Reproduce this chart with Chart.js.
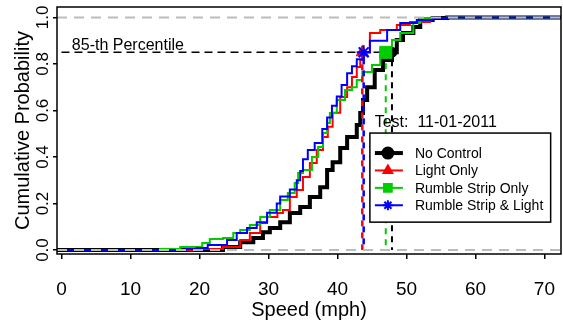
<!DOCTYPE html>
<html>
<head>
<meta charset="utf-8">
<script src="https://cdn.jsdelivr.net/npm/chart.js@4"></script>
<style>
  html, body { margin: 0; padding: 0; background: #fff; }
  #wrap { width: 563px; height: 326px; }
</style>
</head>
<body>
<div id="wrap"><canvas id="graficoVelocidade" width="563" height="326"></canvas></div>
<script>
/* ================= DADOS ================= */

const categorias = ["No Control", "Light Only", "Rumble Strip Only", "Rumble Strip & Light"];

// No Control
const velSemControle = [20.1, 23.4, 25.9, 27.8, 29.2, 30.2, 31.7, 33.1, 34.6, 36.0, 37.5, 38.5, 39.3, 40.4, 41.4, 42.8, 43.3, 43.7, 44.3, 45.4, 46.6, 47.9, 48.6, 49.5, 51.0, 52.0, 53.8, 55.9];
const probSemControle = [0.0, 0.013, 0.034, 0.052, 0.077, 0.095, 0.12, 0.159, 0.185, 0.228, 0.27, 0.344, 0.378, 0.439, 0.486, 0.538, 0.589, 0.645, 0.70, 0.774, 0.817, 0.85, 0.903, 0.933, 0.959, 0.989, 0.998, 1.0];

// Light Only
const velLuz = [19.0, 20.1, 23.4, 25.9, 27.3, 28.8, 29.8, 31.3, 32.1, 33.1, 34.1, 35.0, 36.0, 37.0, 37.9, 38.6, 39.3, 40.4, 41.4, 42.1, 42.8, 43.3, 43.6, 44.7, 46.2, 48.6, 50.5, 53.4, 55.9];
const probLuz = [0.0, 0.004, 0.013, 0.043, 0.073, 0.116, 0.142, 0.159, 0.172, 0.228, 0.258, 0.314, 0.374, 0.43, 0.486, 0.53, 0.59, 0.658, 0.70, 0.744, 0.787, 0.817, 0.85, 0.933, 0.946, 0.968, 0.98, 0.998, 1.0];

// Rumble Strip Only
const velFaixa = [14.3, 17.2, 20.4, 21.5, 23.4, 24.9, 25.9, 27.3, 28.8, 30.2, 31.7, 32.8, 33.8, 34.3, 35.0, 36.3, 37.2, 37.9, 38.5, 38.9, 39.9, 41.1, 42.1, 42.8, 43.6, 45.0, 46.2, 47.0, 47.9, 49.1, 51.0, 52.0, 55.9];
const probFaixa = [0.005, 0.013, 0.03, 0.047, 0.052, 0.073, 0.086, 0.108, 0.142, 0.172, 0.215, 0.245, 0.288, 0.331, 0.344, 0.40, 0.443, 0.503, 0.546, 0.589, 0.645, 0.688, 0.70, 0.731, 0.766, 0.796, 0.839, 0.85, 0.903, 0.933, 0.976, 0.998, 1.0];

// Rumble Strip & Light
const velFaixaLuz = [18.0, 19.6, 21.2, 24.0, 25.4, 26.9, 28.3, 29.8, 31.2, 31.7, 33.1, 34.1, 34.6, 35.0, 35.7, 36.7, 37.8, 38.5, 39.2, 39.9, 40.6, 41.4, 42.1, 42.8, 43.8, 44.7, 47.2, 49.1, 51.5, 53.8, 55.9];
const probFaixaLuz = [0.004, 0.009, 0.022, 0.043, 0.073, 0.095, 0.12, 0.16, 0.20, 0.23, 0.26, 0.30, 0.34, 0.39, 0.43, 0.46, 0.52, 0.57, 0.62, 0.66, 0.71, 0.76, 0.79, 0.82, 0.85, 0.90, 0.946, 0.976, 0.989, 0.998, 1.0];

// 85-th percentile (mesma ordem das categorias)
const percentil85 = [47.9, 43.6, 47.0, 43.8];
const nivelPercentil = 0.85;

const ticksX = [0, 10, 20, 30, 40, 50, 60, 70];
const ticksY = [0, 0.2, 0.4, 0.6, 0.8, 1.0];
const rotulosY = ["0.0", "0.2", "0.4", "0.6", "0.8", "1.0"];

/* ================= ESTILO ================= */

const FONTE = "'Liberation Sans', Arial, sans-serif";
const X_MIN = -0.65, X_MAX = 72.4;
const Y_MIN = -0.017, Y_MAX = 1.045;

const cores = ["#000000", "#ff0000", "#00cc00", "#0000ff"];
const larguras = [4, 2, 2, 2];
const marcadores = ["circle", "triangle", "rect", "star"];
const raios = [5, 7, 8.5, 7];
const raiosLegenda = [4.5, 5, 5.5, 5];

/* ================= UTIL ================= */

function pontosEcdf(vel, prob) {
  const pts = [{ x: X_MIN, y: 0 }];
  vel.forEach((v, i) => pts.push({ x: v, y: prob[i] }));
  pts.push({ x: X_MAX, y: 1 });
  return pts;
}

function linha(data, cor, largura, tracejado, offset) {
  return {
    data,
    borderColor: cor,
    borderWidth: largura,
    borderDash: tracejado || [],
    borderDashOffset: offset || 0,
    pointRadius: 0,
    fill: false,
    stepped: false
  };
}

// tira a folga que o Chart.js reserva para os rotulos nas pontas
function semFolga(s) {
  s.paddingLeft = 0;
  s.paddingRight = 0;
  s.paddingTop = 0;
  s.paddingBottom = 0;
}

/* ================= DATASETS ================= */

const series = [
  pontosEcdf(velSemControle, probSemControle),
  pontosEcdf(velLuz, probLuz),
  pontosEcdf(velFaixa, probFaixa),
  pontosEcdf(velFaixaLuz, probFaixaLuz)
];

const datasets = [];

// marcadores do percentil (por cima de tudo)
[3, 1, 2, 0].forEach(i => {
  datasets.push({
    data: [{ x: percentil85[i], y: nivelPercentil }],
    showLine: false,
    pointStyle: marcadores[i],
    pointRadius: raios[i],
    pointBackgroundColor: cores[i],
    pointBorderColor: cores[i],
    pointBorderWidth: i === 3 ? 2 : 1,
    clip: false
  });
});

// linhas cinza em 0 e 1
datasets.push(linha([{ x: X_MIN, y: 1 }, { x: X_MAX, y: 1 }], "#bcbcbc", 2, [10, 7]));
datasets.push(linha([{ x: X_MIN, y: 0 }, { x: X_MAX, y: 0 }], "#bcbcbc", 2, [10, 7]));

// verticais tracejadas do percentil
datasets.push(linha([{ x: percentil85[3], y: nivelPercentil }, { x: percentil85[3], y: 0 }], cores[3], 2.5, [6, 6], 6));
datasets.push(linha([{ x: percentil85[1], y: nivelPercentil }, { x: percentil85[1], y: 0 }], cores[1], 2.5, [6, 6]));
datasets.push(linha([{ x: percentil85[2], y: nivelPercentil }, { x: percentil85[2], y: 0 }], cores[2], 2, [6, 5]));
datasets.push(linha([{ x: percentil85[0], y: nivelPercentil }, { x: percentil85[0], y: 0 }], cores[0], 2, [6, 5], 3));

// horizontal tracejada em 0.85
datasets.push(linha([{ x: 0, y: nivelPercentil }, { x: Math.max(...percentil85), y: nivelPercentil }], "#000", 1.5, [8, 5]));

// curvas acumuladas (azul por cima, preto por baixo)
[3, 2, 1, 0].forEach(i => {
  const d = linha(series[i], cores[i], larguras[i]);
  d.stepped = true;
  d.label = categorias[i];
  d.borderJoinStyle = "miter";
  datasets.push(d);
});

/* ================= PLUGIN ================= */

const decoracao = {
  id: "decoracao",
  afterDraw(chart) {
    const { ctx, chartArea: a, scales: { x, y } } = chart;
    ctx.save();

    // caixa do grafico
    ctx.strokeStyle = "#000";
    ctx.lineWidth = 1.5;
    ctx.strokeRect(a.left, a.top, a.right - a.left, a.bottom - a.top);

    // textos
    ctx.fillStyle = "#000";
    ctx.textBaseline = "alphabetic";
    ctx.textAlign = "left";
    ctx.font = "16px " + FONTE;
    ctx.fillText("85-th Percentile", x.getPixelForValue(1.5), y.getPixelForValue(nivelPercentil) - 2);
    ctx.fillText("Test:  11-01-2011", x.getPixelForValue(45.4), y.getPixelForValue(0.53));

    // legenda
    const bx = x.getPixelForValue(44.7);
    const by = y.getPixelForValue(0.503);
    const bw = x.getPixelForValue(70.9) - bx;
    const bh = y.getPixelForValue(0.12) - by;
    ctx.fillStyle = "#fff";
    ctx.fillRect(bx, by, bw, bh);
    ctx.strokeStyle = "#000";
    ctx.lineWidth = 1.5;
    ctx.strokeRect(bx, by, bw, bh);

    ctx.font = "14px " + FONTE;
    ctx.textBaseline = "middle";
    categorias.forEach((nome, i) => {
      const ly = by + 20 + i * 17.4;
      ctx.strokeStyle = cores[i];
      ctx.fillStyle = cores[i];
      ctx.lineWidth = larguras[i];
      ctx.beginPath();
      ctx.moveTo(bx + 5, ly);
      ctx.lineTo(bx + 33, ly);
      ctx.stroke();
      Chart.helpers.drawPoint(ctx, {
        pointStyle: marcadores[i],
        radius: raiosLegenda[i],
        rotation: 0,
        borderWidth: i === 3 ? 2 : 1
      }, bx + 18, ly);
      ctx.fillStyle = "#000";
      ctx.fillText(nome, bx + 45, ly + 1);
    });

    ctx.restore();
  }
};

/* ================= GRAFICO ================= */

new Chart(document.getElementById("graficoVelocidade"), {
  type: "line",
  data: { datasets },
  options: {
    responsive: false,
    animation: false,
    layout: { autoPadding: false, padding: { top: 7, right: 2, left: 0, bottom: 0 } },
    plugins: { legend: { display: false }, tooltip: { enabled: false } },
    scales: {
      x: {
        type: "linear",
        min: X_MIN,
        max: X_MAX,
        afterBuildTicks: s => { s.ticks = ticksX.map(v => ({ value: v })); },
        afterFit: s => { s.height = 72; semFolga(s); },
        border: { display: false },
        grid: { drawOnChartArea: false, tickLength: 5, color: "#000", lineWidth: 1.5 },
        ticks: { color: "#000", font: { size: 19, family: FONTE }, padding: 19, maxRotation: 0 },
        title: { display: true, text: "Speed (mph)", color: "#000", font: { size: 20, family: FONTE }, padding: { top: 0, bottom: 4 } }
      },
      y: {
        type: "linear",
        min: Y_MIN,
        max: Y_MAX,
        afterBuildTicks: s => { s.ticks = ticksY.map(v => ({ value: v })); },
        afterFit: s => { s.width = 57; semFolga(s); },
        border: { display: false },
        grid: { drawOnChartArea: false, tickLength: 4, color: "#000", lineWidth: 1.5 },
        ticks: {
          color: "#000",
          font: { size: 17, family: FONTE },
          padding: -2,
          minRotation: 90,
          maxRotation: 90,
          crossAlign: "center",
          callback: (v, i) => rotulosY[i]
        },
        title: { display: true, text: "Cumulative Probability", color: "#000", font: { size: 20, family: FONTE }, padding: { top: 11, bottom: 0 } }
      }
    }
  },
  plugins: [decoracao]
});
</script>
</body>
</html>
